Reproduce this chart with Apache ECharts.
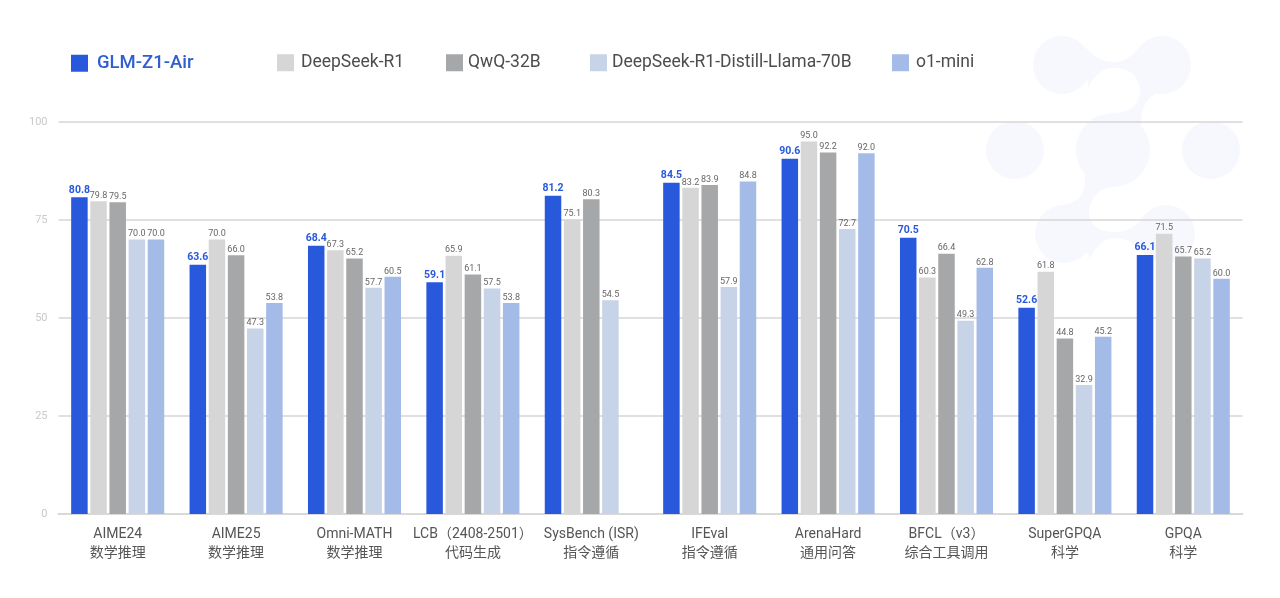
<!DOCTYPE html>
<html>

<head>
    <meta charset="UTF-8">
    <title>GLM-Z1-Air</title>
    <style>
        html, body { margin: 0; padding: 0; background: #fff; }
        #mybox { width: 1280px; height: 598px; }
    </style>
    <script src="https://cdn.jsdelivr.net/npm/echarts@6/dist/echarts.min.js"></script>
</head>

<body>
    <div id="mybox"></div>
    <script type="text/javascript">
        var categories = [
            'AIME24\n数学推理', 'AIME25\n数学推理', 'Omni-MATH\n数学推理', 'LCB（2408-2501）\n代码生成',
            'SysBench (ISR)\n指令遵循', 'IFEval\n指令遵循', 'ArenaHard\n通用问答', 'BFCL（v3）\n综合工具调用',
            'SuperGPQA\n科学', 'GPQA\n科学'
        ];
        var seriesNames = ['GLM-Z1-Air', 'DeepSeek-R1', 'QwQ-32B', 'DeepSeek-R1-Distill-Llama-70B', 'o1-mini'];
        var glmZ1Air = [80.8, 63.6, 68.4, 59.1, 81.2, 84.5, 90.6, 70.5, 52.6, 66.1];
        var deepSeekR1 = [79.8, 70.0, 67.3, 65.9, 75.1, 83.2, 95.0, 60.3, 61.8, 71.5];
        var qwq32B = [79.5, 66.0, 65.2, 61.1, 80.3, 83.9, 92.2, 66.4, 44.8, 65.7];
        var distillLlama = [70.0, 47.3, 57.7, 57.5, 54.5, 57.9, 72.7, 49.3, 32.9, 65.2];
        var o1Mini = [70.0, 53.8, 60.5, 53.8, null, 84.8, 92.0, 62.8, 45.2, 60.0];

        var FONT = 'Roboto, "Noto Sans CJK SC", sans-serif';
        var colors = ['#2859dc', '#d6d6d6', '#a6a7a8', '#c7d3e6', '#a4bbe8'];
        var allValues = [glmZ1Air, deepSeekR1, qwq32B, distillLlama, o1Mini];
        var legendLeft = [71, 277, 446, 590, 892];
        var legendGap = [4, 2, 0, 0, 2];

        // 背景水印
        var LOGO = '#f7f8fd';
        echarts.graphic.registerShape('logoBand', echarts.graphic.extendShape({
            shape: { segs: [] },
            buildPath: function (ctx, shape) {
                shape.segs.forEach(function (s, i) {
                    if (i === 0) ctx.moveTo(s[0], s[1]);
                    else if (s.length === 2) ctx.lineTo(s[0], s[1]);
                    else ctx.quadraticCurveTo(s[0], s[1], s[2], s[3]);
                });
                ctx.closePath();
            }
        }));
        function blob(cx, cy, r) {
            return { type: 'circle', z: -10, silent: true, shape: { cx: cx, cy: cy, r: r }, style: { fill: LOGO } };
        }
        function band(segs) {
            return { type: 'logoBand', z: -10, silent: true, shape: { segs: segs }, style: { fill: LOGO } };
        }
        var logo = [
            blob(1062, 65, 29), blob(1162, 65, 29), blob(1015, 150, 29), blob(1211, 150, 29),
            blob(1113, 150, 37), blob(1064, 234, 29), blob(1166, 234, 29),
            band([[1086, 48], [1098, 62, 1113, 62], [1128, 62, 1140, 47], [1165, 90], [1140, 96, 1141, 125],
                [1113, 113], [1140, 112, 1140, 90], [1138, 68, 1113, 68], [1098, 68, 1088, 88]]),
            band([[1085, 175], [1087, 203, 1062, 205], [1090, 258], [1100, 238, 1115, 238], [1130, 238, 1142, 252],
                [1150, 210], [1135, 232, 1115, 232], [1090, 232, 1089, 213], [1090, 190, 1113, 187]])
        ];

        var myChart = echarts.init(document.getElementById('mybox'), null, { renderer: 'canvas' });

        var option = {
            animation: false,
            backgroundColor: '#fff',
            textStyle: { fontFamily: FONT },
            graphic: { elements: logo },
            legend: seriesNames.map(function (name, i) {
                return {
                    data: [name],
                    left: legendLeft[i],
                    top: 54,
                    padding: 0,
                    icon: 'rect',
                    itemWidth: 17,
                    itemHeight: 17,
                    selectedMode: false,
                    textStyle: {
                        fontFamily: FONT,
                        fontSize: i === 0 ? 18.5 : 17.5,
                        fontWeight: i === 0 ? 500 : 400,
                        color: i === 0 ? '#2f5fd0' : '#4d4d4d',
                        padding: [2, 0, 0, legendGap[i]]
                    }
                };
            }),
            grid: { left: 58.5, right: 37.5, top: 122, bottom: 84 },
            xAxis: {
                type: 'category',
                data: categories,
                axisTick: { show: false },
                axisLine: { lineStyle: { color: '#d9d9d9', width: 2 } },
                axisLabel: {
                    interval: 0,
                    margin: 11,
                    color: '#555',
                    fontSize: 14,
                    lineHeight: 19,
                    fontFamily: FONT
                }
            },
            yAxis: {
                type: 'value',
                min: 0,
                max: 100,
                interval: 25,
                axisLine: { show: false },
                axisTick: { show: false },
                axisLabel: { color: '#c9c9c9', fontSize: 11, margin: 11, padding: [2, 0, 0, 0], fontFamily: FONT },
                splitLine: { lineStyle: { color: '#d6d6d6', width: 1.5 } }
            },
            series: seriesNames.map(function (name, i) {
                return {
                    name: name,
                    type: 'bar',
                    data: allValues[i],
                    barWidth: 16.5,
                    barGap: '16%',
                    itemStyle: { color: colors[i] },
                    label: {
                        show: true,
                        position: 'top',
                        distance: i === 0 ? 2 : 1,
                        fontFamily: FONT,
                        fontSize: i === 0 ? 10.5 : 9,
                        fontWeight: i === 0 ? 'bold' : 'normal',
                        color: i === 0 ? '#2859dc' : '#666',
                        formatter: function (p) { return p.value.toFixed(1); }
                    }
                };
            })
        };

        myChart.setOption(option);
    </script>
</body>

</html>
